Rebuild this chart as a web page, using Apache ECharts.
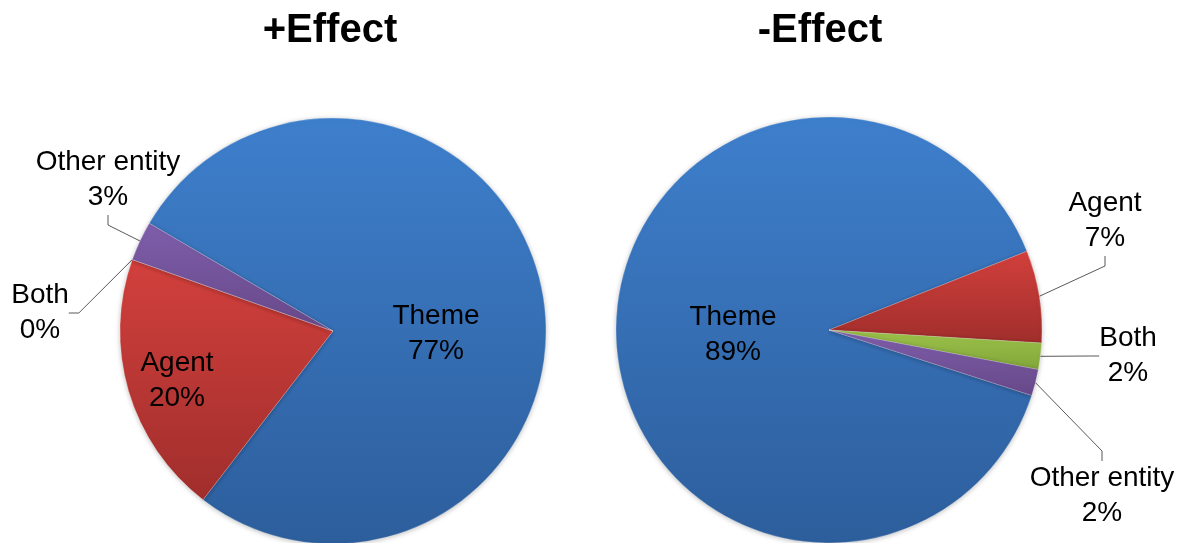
<!DOCTYPE html>
<html>
<head>
<meta charset="utf-8">
<script src="https://cdn.jsdelivr.net/npm/echarts@6/dist/echarts.min.js"></script>
<style>
  html, body { margin: 0; padding: 0; background: #fff; }
  #chart { width: 1180px; height: 543px; }
</style>
</head>
<body>
<div id="chart"></div>
<script>
// ---- data ----
const categories = ['Theme', 'Agent', 'Both', 'Other entity'];
const plusEffect = [77, 20, 0, 3];
const minusEffect = [89, 7, 2, 2];
const chartTitles = ['+Effect', '-Effect'];

// ---- styling / layout ----
const FONT = '"Liberation Sans", Arial, Helvetica, sans-serif';
const sliceColors = {
  'Theme': ['#3E7FCC', '#2D5E9C'],
  'Agent': ['#D2403C', '#A02E2C'],
  'Both': ['#9CC24A', '#82A63A'],
  'Other entity': ['#7E5EAA', '#674889']
};
function grad(c) {
  return new echarts.graphic.LinearGradient(0, 0, 0, 1, [
    { offset: 0, color: c[0] }, { offset: 1, color: c[1] }
  ]);
}
const pies = [
  { center: [333, 331], radius: 213, startAngle: 149.6, values: plusEffect,
    labelPos: { 'Theme': [436, 334, false], 'Agent': [177, 381, false], 'Both': [40, 313, true], 'Other entity': [108, 180, true] } },
  { center: [829, 330], radius: 213, startAngle: -17.9, values: minusEffect,
    labelPos: { 'Theme': [733, 335, false], 'Agent': [1105, 221, true], 'Both': [1128, 356, true], 'Other entity': [1102, 496, true] } }
];
const titleCenters = [[330, 11], [820, 11]];

const series = pies.map((p, si) => ({
  type: 'pie',
  center: p.center,
  radius: p.radius,
  startAngle: p.startAngle,
  clockwise: true,
  avoidLabelOverlap: false,
  animation: false,
  silent: true,
  minShowLabelAngle: -1,
  itemStyle: { borderWidth: 0.6, borderColor: 'rgba(255,255,255,0.35)',
    shadowBlur: 5, shadowColor: 'rgba(0,0,0,0.25)', shadowOffsetY: 1 },
  label: {
    formatter: '{b}\n{c}%',
    fontFamily: FONT, fontSize: 28, color: '#000', lineHeight: 35,
    align: 'center'
  },
  labelLine: { show: true, length: 10, length2: 10, lineStyle: { color: '#595959', width: 1 } },
  labelLayout: function (params) {
    const name = categories[params.dataIndex];
    const lp = p.labelPos[name];
    return { x: lp[0], y: lp[1], align: 'center', verticalAlign: 'middle' };
  },
  data: categories.map((c, i) => ({
    name: c,
    value: p.values[i],
    itemStyle: { color: grad(sliceColors[c]) },
    label: { position: p.labelPos[c][2] ? 'outside' : 'inside' },
    labelLine: { show: p.labelPos[c][2] }
  }))
}));

const chart = echarts.init(document.getElementById('chart'), null, { renderer: 'canvas' });
chart.setOption({
  backgroundColor: '#ffffff',
  animation: false,
  title: chartTitles.map((t, i) => ({
    text: t,
    left: titleCenters[i][0],
    top: titleCenters[i][1],
    textAlign: 'center',
    padding: 0,
    textStyle: { fontFamily: FONT, fontSize: 40, fontWeight: 'bold', color: '#000' }
  })),
  series: series
});
</script>
</body>
</html>
